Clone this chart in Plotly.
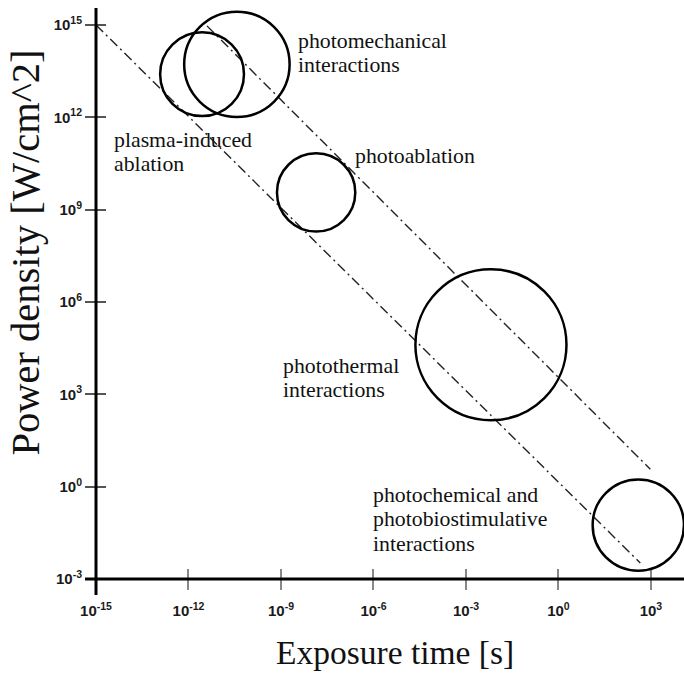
import plotly.graph_objects as go

# ---- data (log10 units) ----
tick_exponents = [-15, -12, -9, -6, -3, 0, 3]
y_tick_exponents = [-3, 0, 3, 6, 9, 12, 15]

region_names = ["plasma-induced ablation", "photomechanical interactions", "photoablation",
                "photothermal interactions", "photochemical and photobiostimulative interactions"]
region_log_time = [-11.56, -10.43, -7.86, -2.19, 2.59]      # circle centre, log10 exposure time [s]
region_log_power = [13.40, 13.72, 9.56, 4.61, -1.25]         # circle centre, log10 power density [W/cm^2]
region_radius = [1.36, 1.71, 1.27, 2.45, 1.48]               # circle radius in decades

lower_line_log_time = [-15.0, 2.655]
lower_line_log_power = [15.0, -2.48]
upper_line_log_time = [-11.40, 2.98]
upper_line_log_power = [14.97, 0.564]

label_lines = [
    ["photomechanical", "interactions"],
    ["plasma-induced", "ablation"],
    ["photoablation"],
    ["photothermal", "interactions"],
    ["photochemical and", "photobiostimulative", "interactions"],
]
# label placement (pixels: left x, first line centre y, line step)
label_pos = [(296, 41.0), (112, 139.5), (353, 156.0), (281, 365.5), (371, 494.8)]
LINE_STEP = 24.5

x_title = "Exposure time [s]"
y_title = "Power density [W/cm^2]"

# ---- layout geometry ----
W, H = 684, 673
ML, MR, MT, MB = 96, 0, 8, 94
PW, PH = W - ML - MR, H - MT - MB
X_RANGE = [-15, -15 + PW / 30.83]
Y_RANGE = [-3, -3 + PH / 30.78]


def px_to_paper(px, py):
    return (px - ML) / PW, (H - MB - py) / PH


fig = go.Figure()

dash = "10px,4px,2px,4px"
fig.add_trace(go.Scatter(x=[10 ** v for v in lower_line_log_time],
                         y=[10 ** v for v in lower_line_log_power],
                         mode="lines", line=dict(color="#222", width=1.4, dash=dash),
                         hoverinfo="skip", showlegend=False))
fig.add_trace(go.Scatter(x=[10 ** v for v in upper_line_log_time],
                         y=[10 ** v for v in upper_line_log_power],
                         mode="lines", line=dict(color="#222", width=1.4, dash=dash),
                         hoverinfo="skip", showlegend=False))
# invisible trace to activate overlay axes (inside ticks)
fig.add_trace(go.Scatter(x=[1e-15], y=[1e-3], xaxis="x2", yaxis="y2", mode="markers",
                         marker=dict(opacity=0), hoverinfo="skip", showlegend=False))

for cx, cy, r in zip(region_log_time, region_log_power, region_radius):
    fig.add_shape(type="circle", xref="x", yref="y",
                  x0=10 ** (cx - r), x1=10 ** (cx + r),
                  y0=10 ** (cy - r), y1=10 ** (cy + r),
                  line=dict(color="black", width=2.5), fillcolor="rgba(0,0,0,0)")

# axis lines (extending slightly past the origin)
fig.add_shape(type="line", xref="paper", yref="paper",
              x0=(85 - ML) / PW, x1=1, y0=0, y1=0, line=dict(color="black", width=3))
fig.add_shape(type="line", xref="paper", yref="paper",
              x0=0, x1=0, y0=(H - MB - 595) / PH, y1=1, line=dict(color="black", width=3))

serif = "Liberation Serif, Times New Roman, serif"
for lines, (lx, ly) in zip(label_lines, label_pos):
    for i, t in enumerate(lines):
        px_, py_ = px_to_paper(lx, ly + i * LINE_STEP)
        fig.add_annotation(text=t, xref="paper", yref="paper", x=px_, y=py_,
                           xanchor="left", yanchor="middle", showarrow=False,
                           font=dict(family=serif, size=21.8, color="#111"))

tx, ty = px_to_paper(395, 652.7)
fig.add_annotation(text=x_title, xref="paper", yref="paper", x=tx, y=ty,
                   xanchor="center", yanchor="middle", showarrow=False,
                   font=dict(family=serif, size=33.5, color="#111"))
tx, ty = px_to_paper(25, 252.5)
fig.add_annotation(text=y_title, xref="paper", yref="paper", x=tx, y=ty, textangle=-90,
                   xanchor="center", yanchor="middle", showarrow=False,
                   font=dict(family=serif, size=40.5, color="#111"))

tickfont = dict(family="Liberation Sans, Arial, sans-serif", size=15, color="#1a1a1a", weight="bold")
xt_vals = [10.0 ** e for e in tick_exponents]
xt_text = [f"<b>10<sup>{e}</sup></b>" for e in tick_exponents]
yt_vals = [10.0 ** e for e in y_tick_exponents]
yt_text = [f"<b>10<sup>{e}</sup></b>" for e in y_tick_exponents]

fig.update_layout(
    width=W, height=H, autosize=False,
    margin=dict(l=ML, r=MR, t=MT, b=MB, pad=0),
    paper_bgcolor="white", plot_bgcolor="white",
    showlegend=False,
    xaxis=dict(type="log", range=X_RANGE, tickvals=xt_vals, ticktext=xt_text,
               ticks="outside", ticklen=10, tickwidth=1.5, tickcolor="#888",
               tickfont=tickfont, showgrid=False, zeroline=False, showline=False,
               ticklabelstandoff=8),
    yaxis=dict(type="log", range=Y_RANGE, tickvals=yt_vals, ticktext=yt_text,
               ticks="outside", ticklen=10, tickwidth=1.5, tickcolor="#555",
               tickfont=tickfont, showgrid=False, zeroline=False, showline=False),
    xaxis2=dict(type="log", range=X_RANGE, overlaying="x", anchor="y2", side="bottom",
                tickvals=xt_vals, ticks="inside", ticklen=10, tickwidth=1.5, tickcolor="#888",
                showticklabels=False, showgrid=False, zeroline=False, showline=False),
    yaxis2=dict(type="log", range=Y_RANGE, overlaying="y", anchor="x2", side="left",
                tickvals=yt_vals, ticks="inside", ticklen=10, tickwidth=1.5, tickcolor="#555",
                showticklabels=False, showgrid=False, zeroline=False, showline=False),
)

fig.write_html("out.html")
